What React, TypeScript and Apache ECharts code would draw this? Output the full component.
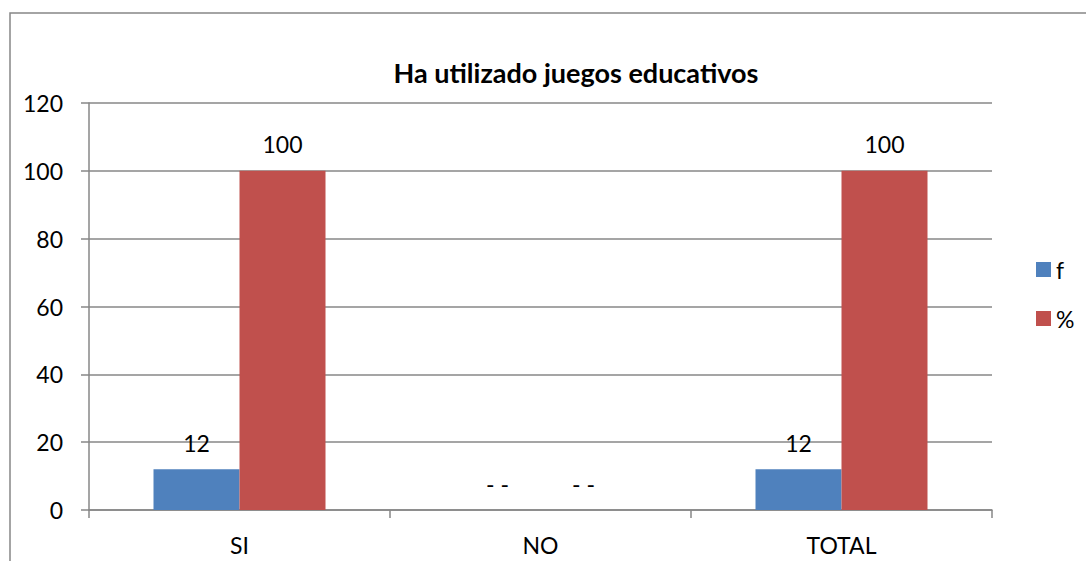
import React, { useEffect, useRef } from "react";
import * as echarts from "echarts";

const categories = ["SI", "NO", "TOTAL"];
const seriesNames = ["f", "%"];
const fValues = [12, 0, 12];
const pctValues = [100, 0, 100];
const fLabels = ["12", "- -", "12"];
const pctLabels = ["100", "- -", "100"];
const yTicks = { min: 0, max: 120, interval: 20 };

const FONT = "Lato, 'Open Sans', sans-serif";

export default function App() {
  const ref = useRef<HTMLDivElement>(null);
  useEffect(() => {
    if (!ref.current) return;
    const chart = echarts.init(ref.current, undefined, { renderer: "svg" });
    const labelStyle = (labels: string[]) => ({
      show: true,
      position: "top",
      distance: 15,
      color: "#000",
      fontFamily: FONT,
      fontSize: 23,
      formatter: (p: any) => labels[p.dataIndex],
    });
    chart.setOption({
      animation: false,
      backgroundColor: "#fff",
      textStyle: { fontFamily: FONT },
      graphic: [
        {
          type: "rect",
          shape: { x: 10, y: 13, width: 1200, height: 700 },
          style: { fill: "none", stroke: "#878787", lineWidth: 1.5 },
          silent: true,
          z: -1,
        },
      ],
      title: {
        text: "Ha utilizado juegos educativos",
        left: 571,
        top: 54,
        textAlign: "center",
        textStyle: { fontFamily: FONT, fontSize: 27, fontWeight: "bold", color: "#000" },
      },
      legend: {
        orient: "vertical",
        left: 1031,
        top: 253,
        itemWidth: 15,
        itemHeight: 15,
        itemGap: 26,
        itemTextGap: 6,
        icon: "rect",
        data: seriesNames,
        textStyle: { fontFamily: FONT, fontSize: 23, color: "#000" },
      },
      grid: { left: 89, right: 94, top: 103, bottom: 51 },
      xAxis: {
        type: "category",
        data: categories,
        axisLine: { show: true, lineStyle: { color: "#878787", width: 1.5 } },
        axisTick: { show: true, length: 8, lineStyle: { color: "#878787", width: 1.5 } },
        axisLabel: { margin: 23, color: "#000", fontFamily: FONT, fontSize: 23 },
      },
      yAxis: {
        type: "value",
        min: yTicks.min,
        max: yTicks.max,
        interval: yTicks.interval,
        axisLine: { show: true, lineStyle: { color: "#878787", width: 1.5 } },
        axisTick: { show: true, length: 8, lineStyle: { color: "#878787", width: 1.5 } },
        axisLabel: { margin: 26, color: "#000", fontFamily: FONT, fontSize: 23 },
        splitLine: { show: true, lineStyle: { color: "#878787", width: 1.5 } },
      },
      series: [
        {
          name: seriesNames[0],
          type: "bar",
          data: fValues,
          barWidth: 86,
          barGap: "0%",
          itemStyle: { color: "#4F81BD" },
          label: labelStyle(fLabels),
        },
        {
          name: seriesNames[1],
          type: "bar",
          data: pctValues,
          barWidth: 86,
          barGap: "0%",
          itemStyle: { color: "#C0504D" },
          label: labelStyle(pctLabels),
        },
      ],
    });
    return () => chart.dispose();
  }, []);
  return (
    <div
      ref={ref}
      style={{ position: "fixed", left: 0, top: 0, width: 1086, height: 561 }}
    />
  );
}
